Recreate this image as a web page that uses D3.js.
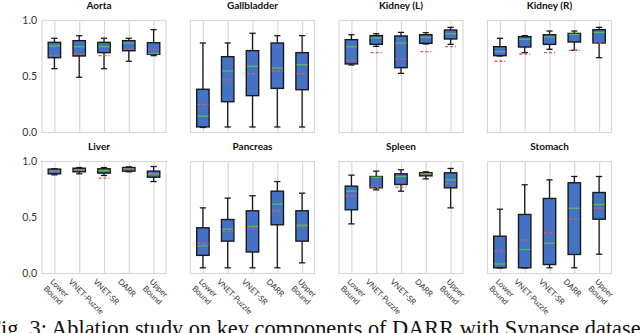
<!DOCTYPE html>
<html>
<head>
<meta charset="utf-8">
<script src="https://cdn.jsdelivr.net/npm/d3@7"></script>
<style>
  html, body { margin: 0; padding: 0; background: #fff; }
  svg { display: block; }
</style>
</head>
<body>
<svg id="chart" width="640" height="333"></svg>
<script>
// ---------------- data ----------------
const organs = ["Aorta", "Gallbladder", "Kidney (L)", "Kidney (R)", "Liver", "Pancreas", "Spleen", "Stomach"];
const methods = ["Lower Bound", "VNET-Puzzle", "VNET-SR", "DARR", "Upper Bound"];
const yTicks = [0.0, 0.5, 1.0];

const whiskerLow = [
  [0.570, 0.493, 0.570, 0.636, 0.686],
  [0.045, 0.049, 0.049, 0.049, 0.049],
  [0.603, 0.769, 0.528, 0.790, 0.787],
  [0.683, 0.713, 0.743, 0.734, 0.668],
  [0.881, 0.890, 0.875, 0.908, 0.821],
  [0.051, 0.051, 0.051, 0.051, 0.095],
  [0.443, 0.747, 0.735, 0.845, 0.586],
  [0.050, 0.050, 0.051, 0.051, 0.172]
];
const q1 = [
  [0.668, 0.683, 0.713, 0.730, 0.698],
  [0.050, 0.275, 0.329, 0.394, 0.382],
  [0.612, 0.787, 0.579, 0.796, 0.835],
  [0.686, 0.763, 0.787, 0.808, 0.799],
  [0.890, 0.908, 0.896, 0.914, 0.860],
  [0.162, 0.289, 0.192, 0.435, 0.289],
  [0.569, 0.765, 0.795, 0.872, 0.765],
  [0.051, 0.051, 0.080, 0.170, 0.485]
];
const median = [
  [0.772, 0.766, 0.766, 0.799, 0.705],
  [0.145, 0.549, 0.591, 0.576, 0.605],
  [0.766, 0.845, 0.799, 0.850, 0.882],
  [0.722, 0.832, 0.853, 0.876, 0.894],
  [0.914, 0.926, 0.920, 0.932, 0.890],
  [0.247, 0.396, 0.420, 0.619, 0.431],
  [0.735, 0.860, 0.866, 0.890, 0.836],
  [0.085, 0.214, 0.270, 0.583, 0.616]
];
const mean = [
  [0.686, 0.701, 0.686, 0.743, 0.743],
  [0.252, 0.469, 0.525, 0.549, 0.525],
  [0.644, 0.713, 0.656, 0.722, 0.766],
  [0.636, 0.701, 0.713, 0.734, 0.799],
  [0.914, 0.926, 0.851, 0.932, 0.881],
  [0.270, 0.375, 0.396, 0.560, 0.417],
  [0.694, 0.771, 0.771, 0.890, 0.800],
  [0.199, 0.301, 0.363, 0.485, 0.583]
];
const q3 = [
  [0.805, 0.820, 0.805, 0.820, 0.802],
  [0.386, 0.677, 0.731, 0.799, 0.713],
  [0.829, 0.865, 0.862, 0.873, 0.915],
  [0.766, 0.856, 0.873, 0.885, 0.918],
  [0.932, 0.940, 0.935, 0.946, 0.914],
  [0.408, 0.482, 0.560, 0.735, 0.560],
  [0.780, 0.866, 0.890, 0.900, 0.899],
  [0.333, 0.527, 0.670, 0.810, 0.723]
];
const whiskerHigh = [
  [0.841, 0.864, 0.841, 0.841, 0.918],
  [0.799, 0.799, 0.886, 0.865, 0.865],
  [0.873, 0.882, 0.894, 0.891, 0.939],
  [0.841, 0.865, 0.906, 0.906, 0.939],
  [0.935, 0.946, 0.946, 0.952, 0.955],
  [0.586, 0.673, 0.694, 0.821, 0.717],
  [0.878, 0.914, 0.926, 0.908, 0.938],
  [0.574, 0.792, 0.836, 0.866, 0.866]
];
const caption = "Fig. 3: Ablation study on key components of DARR with Synapse dataset.";

// ---------------- layout ----------------
const svg = d3.select("#chart");
const colLeft = [42, 190.5, 339, 487.5];
const rowTop = [20.5, 161.5];
const pw = 124, ph = 112;

const C = {
  grid: "#d9d9d9",
  box: "#4472c4",
  edge: "#1a1a1a",
  med: "#5cb85c",
  mean: "#e05a5a",
  text: "#333"
};
const sans = "Lato, 'Open Sans', sans-serif";

organs.forEach((organ, k) => {
  const r = Math.floor(k / 4), c = k % 4;
  const left = colLeft[c], top = rowTop[r];
  const x = d3.scalePoint().domain(methods).range([left, left + pw]).padding(0.5);
  const y = d3.scaleLinear().domain([0, 1]).range([top + ph, top]);
  const step = x.step();
  const bw = step * 0.5, cw = step * 0.25;
  const g = svg.append("g");

  // vertical gridlines via axis
  const gx = g.append("g").attr("transform", `translate(0,${top + ph})`)
    .call(d3.axisBottom(x).tickSize(-ph).tickFormat(""));
  gx.select(".domain").remove();
  gx.selectAll(".tick line").attr("stroke", C.grid).attr("stroke-width", 1.2);

  // frame
  g.append("rect").attr("x", left).attr("y", top).attr("width", pw).attr("height", ph)
    .attr("fill", "none").attr("stroke", C.grid).attr("stroke-width", 1.2);

  // y axis on first column
  if (c === 0) {
    const ya = g.append("g").attr("transform", `translate(${left},0)`)
      .call(d3.axisLeft(y).tickValues(yTicks).tickFormat(d3.format(".1f")).tickSize(0).tickPadding(5));
    ya.select(".domain").remove();
    ya.selectAll("text").attr("font-family", sans).attr("font-size", 10.5).attr("fill", C.text);
  }

  // title
  g.append("text")
    .attr("x", left + pw / 2 + (c === 0 ? -5 : 0))
    .attr("y", top - 11.5)
    .attr("text-anchor", "middle")
    .attr("font-family", sans).attr("font-weight", "bold").attr("font-size", 10)
    .attr("fill", "#111")
    .text(organ);

  const items = methods.map((m, i) => ({
    m, lo: whiskerLow[k][i], q1: q1[k][i], med: median[k][i], mean: mean[k][i], q3: q3[k][i], hi: whiskerHigh[k][i]
  }));
  const b = g.selectAll("g.box").data(items).join("g").attr("class", "box");

  // whiskers
  b.append("line").attr("x1", d => x(d.m)).attr("x2", d => x(d.m))
    .attr("y1", d => y(d.lo)).attr("y2", d => y(d.q1))
    .attr("stroke", C.edge).attr("stroke-width", 1.3);
  b.append("line").attr("x1", d => x(d.m)).attr("x2", d => x(d.m))
    .attr("y1", d => y(d.q3)).attr("y2", d => y(d.hi))
    .attr("stroke", C.edge).attr("stroke-width", 1.3);
  // caps
  b.append("line").attr("x1", d => x(d.m) - cw / 2).attr("x2", d => x(d.m) + cw / 2)
    .attr("y1", d => y(d.lo)).attr("y2", d => y(d.lo))
    .attr("stroke", C.edge).attr("stroke-width", 1.3);
  b.append("line").attr("x1", d => x(d.m) - cw / 2).attr("x2", d => x(d.m) + cw / 2)
    .attr("y1", d => y(d.hi)).attr("y2", d => y(d.hi))
    .attr("stroke", C.edge).attr("stroke-width", 1.3);
  // box
  b.append("rect").attr("x", d => x(d.m) - bw / 2).attr("width", bw)
    .attr("y", d => y(d.q3)).attr("height", d => Math.max(0.5, y(d.q1) - y(d.q3)))
    .attr("fill", C.box).attr("stroke", C.edge).attr("stroke-width", 1.4);
  // median
  b.append("line").attr("x1", d => x(d.m) - bw / 2 + 0.7).attr("x2", d => x(d.m) + bw / 2 - 0.7)
    .attr("y1", d => y(d.med)).attr("y2", d => y(d.med))
    .attr("stroke", C.med).attr("stroke-width", 1.3);
  // mean (dashed)
  b.append("line").attr("x1", d => x(d.m) - bw / 2 + 0.7).attr("x2", d => x(d.m) + bw / 2 - 0.7)
    .attr("y1", d => y(d.mean)).attr("y2", d => y(d.mean))
    .attr("stroke", C.mean).attr("stroke-width", 1.3).attr("stroke-dasharray", "3,2");

  // rotated x labels on bottom row
  if (r === 1) {
    const L = 9.5;
    methods.forEach(m => {
      const parts = m.startsWith("Lower") || m.startsWith("Upper") ? m.split(" ") : [m];
      const n = parts.length;
      const x0 = x(m) - 7 + 0.707 * L * (n - 1);
      const y0 = top + ph + 4.5;
      const t = g.append("text")
        .attr("transform", `translate(${x0},${y0}) rotate(45)`)
        .attr("font-family", sans).attr("font-size", 8).attr("fill", C.text);
      parts.forEach((p, j) => {
        t.append("tspan").attr("x", 0).attr("dy", j === 0 ? "0.75em" : L).text(p);
      });
    });
  }
});

// caption (serif, cut off at the edges like the reference)
const serif = "'Liberation Serif', 'DejaVu Serif', serif";
const meas = svg.append("text").attr("font-family", serif).attr("font-size", 20).attr("visibility", "hidden");
meas.text("F");
const wF = meas.node().getComputedTextLength();
meas.text(caption.slice(1, caption.length - 2));
const wMid = meas.node().getComputedTextLength();
meas.remove();
const sc = 640 / wMid;
svg.append("text")
  .attr("x", 1 - wF * sc)
  .attr("y", 336)
  .attr("font-family", serif)
  .attr("font-size", 20 * sc)
  .attr("fill", "#111")
  .text(caption);
</script>
</body>
</html>
